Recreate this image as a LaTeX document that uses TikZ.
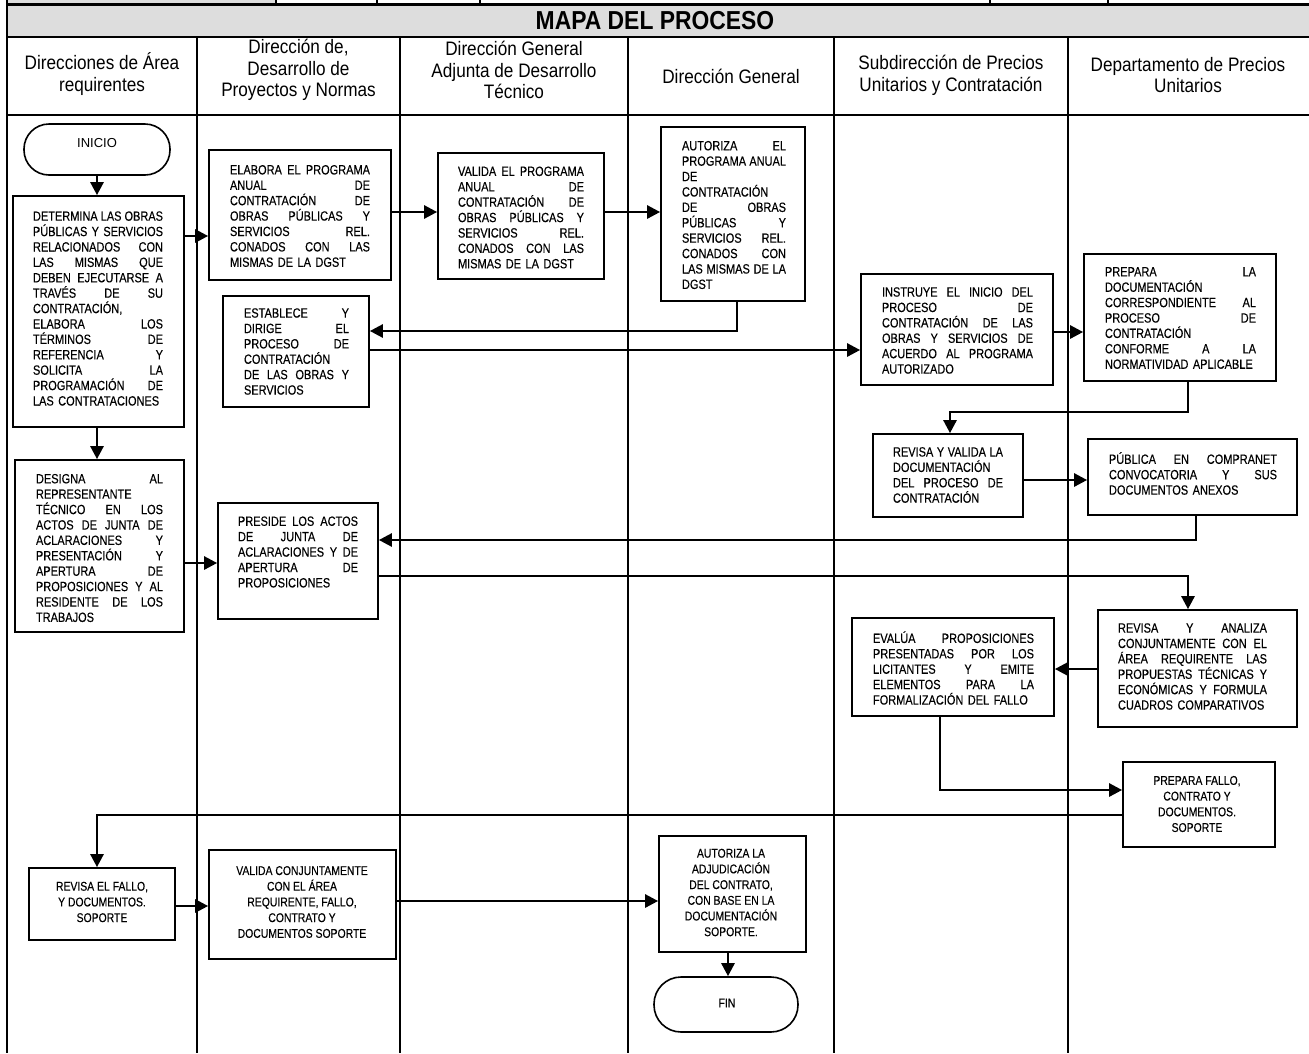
\documentclass[tikz,border=0pt]{standalone}
\usepackage{fontspec}
\setmainfont{Liberation Sans}
\newfontfamily\nf[FakeStretch=0.82,FakeBold=0.3]{Liberation Sans}
\newfontfamily\hf[FakeStretch=0.88]{Liberation Sans}
\usetikzlibrary{arrows.meta}
\definecolor{band}{RGB}{221,221,221}
\newcommand{\tw}{100pt}
\newcommand{\J}[1]{\makebox[\tw][s]{\spaceskip=0.28em plus 1fil minus 0.1em\relax#1}}
\tikzset{
  box/.style={draw, line width=1.7pt, inner sep=0pt},
  term/.style={draw, line width=1.6pt, inner sep=0pt},
  jtxt/.style={inner sep=0pt, align=left, text width=#1,
    execute at begin node={\parindent=0pt\renewcommand{\tw}{#1}},
    font=\nf\fontsize{13.4}{15.4}\selectfont},
  ctxt/.style={inner sep=0pt, align=center, font=\nf\fontsize{12.7}{15.7}\selectfont},
  htxt/.style={inner sep=0pt, align=center, font=\hf\fontsize{19.5}{21.8}\selectfont},
  conn/.style={line width=2.6pt, -{Triangle[length=13pt,width=13pt]}},
  lane/.style={line width=2pt},
  rulel/.style={line width=2.2pt}
}
\begin{document}
\begin{tikzpicture}[x=1pt,y=-1pt]
\useasboundingbox (0,0) rectangle (1309,1053);
% frame and bands
\fill[band] (7,0) rectangle (276,4.5);
\fill[band] (7,4.5) rectangle (1309,37);
\foreach \xx in {276,480,990,1108} \draw[lane] (\xx,0) -- (\xx,4.5);
\draw[lane] (377,0) -- (377,3);
\draw[rulel] (7,4.5) -- (1309,4.5);
\draw[rulel] (7,37) -- (1309,37);
\draw[rulel] (7,115) -- (1309,115);
\draw[rulel] (7,0) -- (7,1053);
\foreach \xx in {197,400,628,834,1068} \draw[lane] (\xx,37) -- (\xx,1053);
% title and headers
\node[inner sep=0pt, font=\hf\bfseries\fontsize{26}{28}\selectfont] (title) at (655,21) {MAPA DEL PROCESO};
\node[htxt] (h1) at (102,74) {Direcciones de Área\\requirentes};
\node[htxt] (h2) at (298.5,70) {Dirección de,\\Desarrollo de\\Proyectos y Normas};
\node[htxt] (h3) at (514,70) {Dirección General\\Adjunta de Desarrollo\\Técnico};
\node[htxt] (h4) at (731,76) {Dirección General};
\node[htxt] (h5) at (951,75) {Subdirección de Precios\\Unitarios y Contratación};
\node[htxt] (h6) at (1188,75) {Departamento de Precios\\Unitarios};
% boxes
\node[term, rounded corners=25pt, minimum width=146pt, minimum height=51pt] (ini) at (97,149.5) {};
\node[box, minimum width=171pt, minimum height=231pt] (det) at (98.5,311.5) {};
\node[box, minimum width=182pt, minimum height=130pt] (ela) at (300,215) {};
\node[box, minimum width=166pt, minimum height=126pt] (val) at (521,216) {};
\node[box, minimum width=144pt, minimum height=174pt] (aut) at (733,214) {};
\node[box, minimum width=146pt, minimum height=111pt] (est) at (296,351.5) {};
\node[box, minimum width=192pt, minimum height=111pt] (ins) at (957,329.5) {};
\node[box, minimum width=192pt, minimum height=127pt] (pre) at (1180,317.5) {};
\node[box, minimum width=150pt, minimum height=83pt] (rev) at (948,475.5) {};
\node[box, minimum width=209pt, minimum height=76pt] (pub) at (1192.5,477) {};
\node[box, minimum width=169pt, minimum height=172pt] (des) at (99.5,546) {};
\node[box, minimum width=160pt, minimum height=116pt] (pres) at (298,561) {};
\node[box, minimum width=199pt, minimum height=117pt] (ana) at (1197.5,668.5) {};
\node[box, minimum width=202pt, minimum height=98pt] (eva) at (953,667) {};
\node[box, minimum width=152pt, minimum height=85pt] (pf) at (1199,804.5) {};
\node[box, minimum width=146pt, minimum height=72pt] (rf) at (102,904) {};
\node[box, minimum width=187pt, minimum height=109pt] (vc) at (302.5,904.5) {};
\node[box, minimum width=147pt, minimum height=116pt] (adj) at (732.5,894) {};
\node[term, rounded corners=27pt, minimum width=144pt, minimum height=55pt] (fin) at (726,1004.5) {};
% texts
\node[inner sep=0pt, font=\fontsize{13}{15}\selectfont] (ini-t) at (97,143) {INICIO};
\node[jtxt=130pt] (det-t) at (98,308.5) {\J{DETERMINA LAS OBRAS}\\\J{PÚBLICAS Y SERVICIOS}\\\J{RELACIONADOS CON}\\\J{LAS MISMAS QUE}\\\J{DEBEN EJECUTARSE A}\\\J{TRAVÉS DE SU}\\CONTRATACIÓN,\\\J{ELABORA LOS}\\\J{TÉRMINOS DE}\\\J{REFERENCIA Y}\\\J{SOLICITA LA}\\\J{PROGRAMACIÓN DE}\\LAS CONTRATACIONES};
\node[jtxt=140pt] (ela-t) at (300,216) {\J{ELABORA EL PROGRAMA}\\\J{ANUAL DE}\\\J{CONTRATACIÓN DE}\\\J{OBRAS PÚBLICAS Y}\\\J{SERVICIOS REL.}\\\J{CONADOS CON LAS}\\MISMAS DE LA DGST};
\node[jtxt=126pt] (val-t) at (521,217.5) {\J{VALIDA EL PROGRAMA}\\\J{ANUAL DE}\\\J{CONTRATACIÓN DE}\\\J{OBRAS PÚBLICAS Y}\\\J{SERVICIOS REL.}\\\J{CONADOS CON LAS}\\MISMAS DE LA DGST};
\node[jtxt=104pt] (aut-t) at (734,215) {\J{AUTORIZA EL}\\\J{PROGRAMA ANUAL}\\DE\\CONTRATACIÓN\\\J{DE OBRAS}\\\J{PÚBLICAS Y}\\\J{SERVICIOS REL.}\\\J{CONADOS CON}\\\J{LAS MISMAS DE LA}\\DGST};
\node[jtxt=105pt] (est-t) at (296.5,351.5) {\J{ESTABLECE Y}\\\J{DIRIGE EL}\\\J{PROCESO DE}\\CONTRATACIÓN\\\J{DE LAS OBRAS Y}\\SERVICIOS};
\node[jtxt=151pt] (ins-t) at (957.5,330.5) {\J{INSTRUYE EL INICIO DEL}\\\J{PROCESO DE}\\\J{CONTRATACIÓN DE LAS}\\\J{OBRAS Y SERVICIOS DE}\\\J{ACUERDO AL PROGRAMA}\\AUTORIZADO};
\node[jtxt=151pt] (pre-t) at (1180.5,318) {\J{PREPARA LA}\\DOCUMENTACIÓN\\\J{CORRESPONDIENTE AL}\\\J{PROCESO DE}\\CONTRATACIÓN\\\J{CONFORME A LA}\\NORMATIVIDAD APLICABLE};
\node[jtxt=110pt] (rev-t) at (948,475) {\J{REVISA Y VALIDA LA}\\DOCUMENTACIÓN\\\J{DEL PROCESO DE}\\CONTRATACIÓN};
\node[jtxt=168pt] (pub-t) at (1193,473.5) {\J{PÚBLICA EN COMPRANET}\\\J{CONVOCATORIA Y SUS}\\DOCUMENTOS ANEXOS};
\node[jtxt=127pt] (des-t) at (99.5,548) {\J{DESIGNA AL}\\REPRESENTANTE\\\J{TÉCNICO EN LOS}\\\J{ACTOS DE JUNTA DE}\\\J{ACLARACIONES Y}\\\J{PRESENTACIÓN Y}\\\J{APERTURA DE}\\\J{PROPOSICIONES Y AL}\\\J{RESIDENTE DE LOS}\\TRABAJOS};
\node[jtxt=120pt] (pres-t) at (298,552) {\J{PRESIDE LOS ACTOS}\\\J{DE JUNTA DE}\\\J{ACLARACIONES Y DE}\\\J{APERTURA DE}\\PROPOSICIONES};
\node[jtxt=149pt] (ana-t) at (1192.5,666.5) {\J{REVISA Y ANALIZA}\\\J{CONJUNTAMENTE CON EL}\\\J{ÁREA REQUIRENTE LAS}\\\J{PROPUESTAS TÉCNICAS Y}\\\J{ECONÓMICAS Y FORMULA}\\CUADROS COMPARATIVOS};
\node[jtxt=161pt] (eva-t) at (953.5,668) {\J{EVALÚA PROPOSICIONES}\\\J{PRESENTADAS POR LOS}\\\J{LICITANTES Y EMITE}\\\J{ELEMENTOS PARA LA}\\FORMALIZACIÓN DEL FALLO};
\node[ctxt] (pf-t) at (1197,804) {PREPARA FALLO,\\CONTRATO Y\\DOCUMENTOS.\\SOPORTE};
\node[ctxt] (rf-t) at (102,902) {REVISA EL FALLO,\\Y DOCUMENTOS.\\SOPORTE};
\node[ctxt] (vc-t) at (302,902) {VALIDA CONJUNTAMENTE\\CON EL ÁREA\\REQUIRENTE, FALLO,\\CONTRATO Y\\DOCUMENTOS SOPORTE};
\node[ctxt] (adj-t) at (731,892.5) {AUTORIZA LA\\ADJUDICACIÓN\\DEL CONTRATO,\\CON BASE EN LA\\DOCUMENTACIÓN\\SOPORTE.};
\node[ctxt] (fin-t) at (727,1003) {FIN};
% connectors
\draw[conn] (ini.south) -- (ini.south |- det.north);
\draw[conn] (det.east |- 0,236) -- (ela.west |- 0,236);
\draw[conn] (ela.east |- 0,212) -- (val.west |- 0,212);
\draw[conn] (val.east |- 0,212) -- (aut.west |- 0,212);
\draw[conn] (aut.south -| 737,0) -- (737,331) -- (est.east |- 0,331);
\draw[conn] (est.east |- 0,350) -- (ins.west |- 0,350);
\draw[conn] (ins.east |- 0,332) -- (pre.west |- 0,332);
\draw[conn] (pre.south -| 1188,0) -- (1188,412) -| (rev.north -| 950,0);
\draw[conn] (rev.east |- 0,480) -- (pub.west |- 0,480);
\draw[conn] (pub.south -| 1196,0) -- (1196,540) -- (pres.east |- 0,540);
\draw[conn] (pres.east |- 0,576) -| (ana.north -| 1188,0);
\draw[conn] (det.south -| 97,0) -- (des.north -| 97,0);
\draw[conn] (des.east |- 0,563) -- (pres.west |- 0,563);
\draw[conn] (ana.west |- 0,669) -- (eva.east |- 0,669);
\draw[conn] (eva.south -| 940,0) |- (pf.west |- 0,790);
\draw[conn] (pf.west |- 0,815) -| (rf.north -| 97,0);
\draw[conn] (rf.east |- 0,906) -- (vc.west |- 0,906);
\draw[conn] (vc.east |- 0,901) -- (adj.west |- 0,901);
\draw[conn] (adj.south -| 728,0) -- (fin.north -| 728,0);
\end{tikzpicture}
\end{document}
